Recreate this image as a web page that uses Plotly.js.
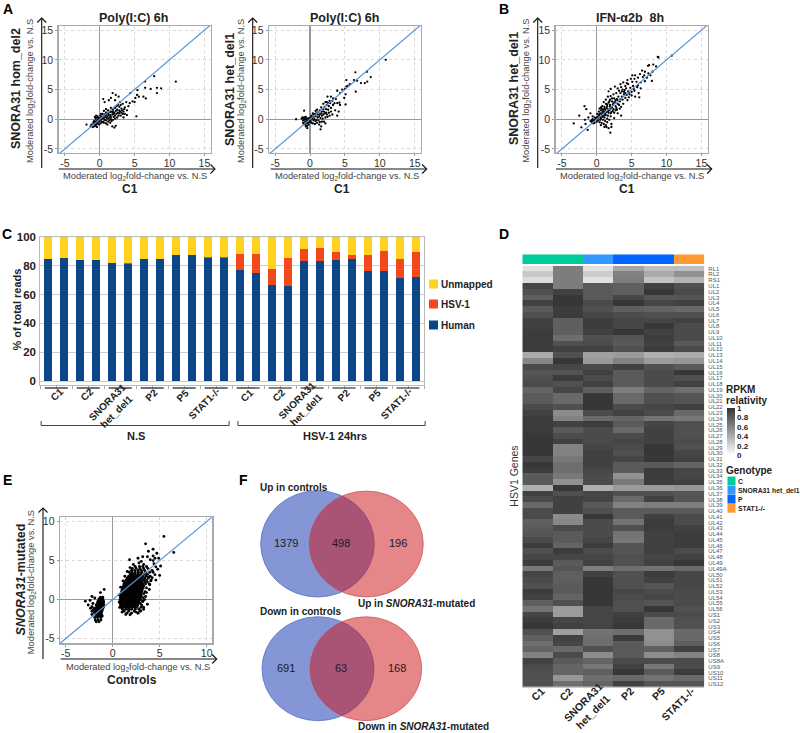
<!DOCTYPE html>
<html><head><meta charset="utf-8">
<script src="https://cdn.plot.ly/plotly-3.0.1.min.js"></script>
<style>html,body{margin:0;padding:0;background:#fff}#c{width:800px;height:733px}</style>
</head><body><div id="c"></div>
<script>
// ---------- DATA ----------
const pointsPolyHomDel2 = [[10.9,6.35],[7.8,7.25],[6.5,6.35],[6.5,5.3],[7.3,5.1],[8.2,5.3],[8.8,5.2],[8.2,4.4],[4.4,4.4],[5.35,4.1],[5.4,4.9],[6.25,3.8],[6.6,3.5],[5.25,0.5],[1.85,4.4],[2.3,4.1],[2.7,3.8],[0.5,3.4],[0.7,2.9],[1.3,3.2],[1.6,3.6],[2.2,3.2],[2.9,2.9],[3.3,2.6],[4.3,2.7],[4.7,3.0],[5.1,3.6],[5.6,3.8],[5.0,2.9],[3.8,2.9],[4.1,2.2],[3.6,2.0],[3.1,1.8],[2.6,2.4],[2.4,2.2],[2.8,2.1],[3.0,2.4],[2.2,1.9],[2.5,1.6],[2.8,1.5],[3.4,1.3],[3.9,1.5],[3.0,0.6],[3.4,0.3],[3.9,0.7],[2.8,1.0],[2.4,0.9],[2.1,1.1],[1.9,1.6],[1.6,1.9],[1.2,1.5],[1.5,1.2],[1.1,1.1],[0.9,1.7],[0.6,1.4],[1.8,-1.2],[2.1,-1.4],[2.3,-1.1],[1.5,-0.6],[1.2,-0.4],[0.9,-0.2],[-1.9,-0.9],[-1.3,-1.2],[-1.2,-0.9],[-1,-1.3],[-0.9,-0.8],[-0.8,-1.2],[-0.7,-0.6],[-0.6,-1.1],[-0.5,-0.9],[-0.5,-0.3],[-0.4,-1.3],[-0.3,-0.7],[-0.3,-0.1],[-0.8,-0.3],[-0.9,-0.5],[-0.6,0.1],[-0.7,0.4],[-0.5,0.6],[-0.4,0.3],[-0.2,-0.4],[-0.1,-0.9],[-0.2,0.2],[-0.6,-0.5],[-0.4,-0.6],[-0.7,-0.9],[-0.3,0.5],[-0.1,0.1],[0,-0.3],[0.1,0.2],[0.2,-0.1],[0.3,0.4],[0.1,0.6],[0.4,0.1],[0.5,0.5],[0.6,0.2],[0.7,-0.1],[0.5,-0.4],[0.8,0.4],[0.9,0.7],[1,0.2],[1.1,0.5],[1.2,0.1],[1.3,0.7],[1.4,0.3],[0.7,0.8],[0.4,0.9],[0.2,0.9],[0.9,1.1],[1.2,0.9],[1.5,0.7],[1.6,0.4],[1.8,0.8],[2,0.4],[2,0.9],[2.2,0.6],[1.7,1.3],[1.9,1.2],[2.3,1.4],[2.6,1.1],[0.3,-0.5],[0.1,-0.7],[0.6,-0.6],[0.9,-0.7],[1.1,-0.9],[1.4,-0.2],[1.7,-0.3],[1.6,0],[1.9,-0.1],[2.2,0.1],[2.5,0.3],[2.7,0.6],[3.1,1.1],[3.3,0.9],[3.6,0.9],[3.2,1.5],[3.5,1.7],[2.9,1.3]];
const pointsPolyHetDel1 = [[10.85,10],[8.15,8],[6.5,7.9],[8.7,7.1],[5.2,6.6],[6.3,6.6],[6.75,6.5],[8.2,6.35],[7.85,6.1],[7.3,6.1],[6.55,4.65],[5.7,5.9],[5.4,5.6],[5,5.1],[5.2,5.5],[4.6,5],[3.9,4.8],[4.3,4.4],[5.1,4.2],[4.9,3.6],[5.1,2.5],[4.3,2.4],[4.1,1.3],[3.6,1.5],[3.2,0.8],[3.9,0.6],[2.5,3.8],[3,3.8],[3.3,3.5],[2.4,2.9],[2.8,3.1],[3.7,3.4],[3.5,2.7],[3.9,2.7],[4.2,2.8],[3.3,2.4],[2.9,2.7],[2.7,2.2],[2.4,2.4],[2.1,2.1],[2.3,1.7],[2.6,1.6],[3,1.9],[3,1.3],[2.7,1.1],[2.3,1.1],[1.9,1.7],[1.6,2],[1.4,1.5],[1.7,1.3],[1.2,1.2],[1,1.6],[0.8,1.4],[1.4,0.8],[1.9,0.8],[1.1,0.8],[0.7,0.9],[0.4,1],[0.2,0.6],[0.5,0.4],[0.8,0.5],[1.1,0.3],[1.5,0.2],[1.8,0.1],[2.2,0.3],[2.5,0.4],[0.3,0.1],[0.6,0],[0.9,-0.1],[1.2,-0.2],[1.4,-0.5],[1.7,-0.4],[2,-0.4],[0.8,-0.3],[0.5,-0.2],[1,-0.6],[1.3,-0.9],[1.6,-1.2],[1.5,-1.7],[2.2,-0.7],[0,0],[0.1,0.3],[0.1,-0.3],[-0.1,-0.1],[-0.2,0.2],[-0.3,-0.2],[-0.4,0.1],[-0.5,-0.3],[-0.6,0],[-0.7,-0.5],[-0.8,-0.1],[-0.9,0.2],[-1,-0.2],[-1.2,0.1],[-1.1,0.3],[-0.8,0.3],[-0.6,0.4],[-2,0],[-0.85,1.45],[-0.7,-0.9],[-0.5,-0.7],[-0.4,-1.1],[-0.3,-0.6],[-1,-0.6],[-0.9,-0.8],[-0.6,-1.2],[-0.4,-1.5],[-0.2,-0.9],[-0.1,-0.5],[0.2,-0.6],[0.4,-0.7],[0.7,-0.8],[1.9,2.6],[2.2,2.9],[1.6,1],[2,1.3],[2.4,0.8],[2.8,0.6],[1.3,0.5],[0.9,1],[0.5,0.8],[0.3,0.4],[1.7,0.6],[2.1,1],[2.6,2.7],[3.2,3.1]];
const pointsIfnHetDel1 = [[10.75,10.7],[8.75,10.5],[8.85,10.4],[7.35,9],[7.5,9.1],[8.1,9.2],[8.5,8.9],[8,8],[7.9,6.45],[6.5,8.2],[6.9,8],[5.1,7.4],[5.5,7.4],[6.2,7.6],[6.8,7.4],[7.4,7.7],[7.7,7.4],[7.2,7],[6.6,7.1],[5.9,7],[5.4,6.8],[4.9,6.8],[4.4,6.6],[3.8,6.2],[3.4,5.9],[2.6,5.5],[2,5.1],[1.7,4.7],[3,5.2],[3.5,5.4],[4.1,5.6],[4.5,5.9],[5.1,6.3],[5.7,6.3],[6.3,6.2],[6.9,6.4],[5.2,5.6],[5.8,5.4],[6.3,5.2],[6,4.4],[5.5,3.8],[6.1,3.7],[5,4.6],[4.5,4.7],[4,4.9],[3.7,5],[3.4,4.4],[3.9,4.2],[4.3,4.1],[4.7,4.2],[4.4,3.2],[3.7,3.3],[3.1,3.8],[2.8,4.4],[2.4,4.2],[2,3.9],[1.6,3.8],[1.3,3.3],[1.9,3.3],[2.5,3.5],[3,3.2],[3.4,3.4],[3,2.6],[2.6,2.9],[2.2,3],[1.7,2.8],[1.3,2.6],[1,2.9],[0.8,2.2],[1.1,2.1],[1.5,2.2],[1.9,2.4],[2.3,2.4],[2.7,2.2],[3.2,2.4],[3.5,2.1],[2.9,1.6],[2.4,1.7],[2,1.8],[1.6,1.7],[1.2,1.6],[0.9,1.6],[0.6,1.5],[0.4,1.8],[0.5,1],[0.8,1.2],[1.1,1.1],[1.4,1.2],[1.7,1.1],[2.1,1.2],[2.5,1.1],[3,1],[3.5,0.6],[2.5,0.2],[2,0.5],[1.6,0.6],[1.3,0.7],[1,0.6],[0.7,0.7],[0.3,0.6],[0.1,0.9],[0.2,0.2],[0.5,0.3],[0.8,0.4],[1.1,0.3],[1.5,0.1],[1.8,-0.1],[0.2,-0.2],[0.5,-0.1],[0.9,-0.1],[1.2,-0.3],[1.5,-0.5],[0.4,-0.5],[0.7,-0.6],[1,-0.8],[1.3,-1],[1.1,-1.3],[1.4,-1.3],[0.6,-1],[1.95,-2.25],[1.7,-1.5],[2.1,-0.8],[2.1,-1.3],[-3.3,-0.7],[-2.5,0.6],[-1.75,2.2],[-1.5,1.7],[-2.2,-1.35],[-1.3,-1.8],[-1.6,-0.8],[-1.7,-0.1],[-1.2,0.3],[-0.9,1],[-0.9,-0.3],[-0.7,-0.5],[-0.6,0],[-0.5,-0.4],[-0.4,-0.2],[-0.3,-0.6],[-0.2,-0.1],[-0.6,0.5],[-0.3,0.3],[-0.1,0.2],[0,-0.4],[0,0.1],[0.1,0.4],[-0.7,-0.2],[-0.5,-0.7],[0.3,1.3],[0.6,2],[1.8,1.5],[2.2,2],[2.8,1.9],[3.3,1.8],[3.8,2.6],[4.1,3.6],[4.6,3.7],[5,4],[5.4,4.8],[5.9,5.7],[5.3,5.1],[4.8,5.3],[4.2,5.2],[3.9,4.6],[3.6,3.8],[3.3,3],[2.9,3.4],[2.4,2.7],[1.9,2.1],[1.4,1.9],[1,1.3],[0.8,0.9],[0.4,0.8],[0.6,0.1],[1.2,0.9],[1.6,1.4],[2,1],[2.3,1.4],[2.7,1.5],[1.5,2.5],[1.1,1.8],[0.7,1.8],[4.1,4.4],[4.6,4.5],[3.6,4.7],[3.2,4.8],[2.2,3.5],[1.8,3],[2.7,3.2],[4.3,6.1]];
const eOutliers = [[5.45,8.1],[3.5,7.15],[4.3,6.45],[6.5,6.05],[3.8,6.2],[4.7,5.95],[4.3,5.6],[4.5,5.3],[4.9,5.3],[1.8,5.1],[2.7,5.3],[3.2,5.5],[3.7,5.5],[4,5.1],[4.3,5],[5.1,4.3],[4.6,4.2],[4.8,3.9],[5,3.1],[4.2,2.8],[4.6,2.5],[3.8,2.9],[4.3,3.5],[4.5,3.2],[3.9,1.3],[3.5,0.4],[3.7,-0.6],[3.3,-1],[2.5,-1.6],[1.4,-1.9],[3.2,-0.2],[3.6,0.9],[3.95,1.9],[4.05,2.4],[4.4,4.6],[3.3,4.5],[2.8,4.7],[3.05,4.9],[2.2,4.5],[1.85,4.1],[1.55,3.6],[1.3,3.0],[1.1,2.4],[0.85,1.6],[0.7,0.6],[0.7,-0.3],[0.75,-1.0],[1.0,-1.6],[1.85,-1.95],[3.0,-1.45]];
const eBlobLevels = [-1.75,-1.5,-1.25,-1,-0.75,-0.5,-0.25,0,0.25,0.5,0.75,1,1.25,1.5,1.75,2,2.25,2.5,2.75,3,3.25,3.5,3.75,4,4.25];
const eBlobX = [
[1.5,2.0,2.7],[1.2,1.7,2.3,2.9],[1.05,1.4,1.7,2.0,2.4,2.8,3.3],[0.9,1.15,1.4,1.6,1.8,2.1,2.35,2.6,3.0],
[0.85,1.0,1.2,1.4,1.6,1.8,2.0,2.2,2.4,2.65,3.1],[0.8,0.95,1.1,1.3,1.5,1.7,1.9,2.1,2.3,2.5,2.7,2.95],[0.8,0.95,1.15,1.35,1.55,1.75,1.95,2.15,2.35,2.55,2.8,3.2],
[0.8,1.0,1.2,1.4,1.6,1.8,2.0,2.2,2.4,2.6,2.8,3.0,3.4],[0.82,1.0,1.15,1.35,1.55,1.75,1.95,2.15,2.35,2.55,2.75,2.95,3.25],[0.85,1.05,1.25,1.45,1.65,1.85,2.05,2.25,2.45,2.65,2.85,3.05],
[0.88,1.05,1.2,1.4,1.6,1.8,2.0,2.2,2.4,2.6,2.8,3.0,3.3],[0.95,1.1,1.3,1.5,1.7,1.9,2.1,2.3,2.5,2.7,2.9,3.1,3.45],[1.0,1.15,1.35,1.55,1.75,1.95,2.15,2.35,2.55,2.75,2.95,3.15],
[1.05,1.25,1.45,1.65,1.85,2.05,2.25,2.45,2.65,2.85,3.05,3.25,3.6],[1.15,1.3,1.5,1.7,1.9,2.1,2.3,2.5,2.7,2.9,3.1,3.3],[1.2,1.4,1.6,1.8,2.0,2.2,2.4,2.6,2.8,3.0,3.2,3.5,3.9],
[1.3,1.5,1.7,1.9,2.1,2.3,2.5,2.7,2.9,3.1,3.4,3.7],[1.4,1.65,1.85,2.05,2.25,2.45,2.65,2.85,3.05,3.3,3.6,4.1],[1.55,1.8,2.0,2.2,2.4,2.6,2.85,3.1,3.4,3.8],
[1.7,1.95,2.2,2.45,2.65,2.9,3.2,3.55,4.0],[1.9,2.15,2.4,2.7,3.0,3.35,3.7],[1.75,2.05,2.4,2.75,3.1,3.5,3.95],[2.0,2.35,2.7,3.05,3.4,4.2],[2.1,2.5,2.9,3.3,3.75],[2.4,2.85,3.2,3.6]];
const eDownLevels = [0.3,0.1,-0.1,-0.3,-0.5,-0.7,-0.9,-1.1,-1.3,-1.5,-1.7,-1.9,-2.1,-2.3,-2.6,-2.85];
const eDownX = [[-1.3,-1.05],[-1.45,-1.25,-1.05],[-2.4,-1.5,-1.3,-1.15,-1],[-1.6,-1.4,-1.25,-1.1,-0.95],[-2.1,-1.6,-1.45,-1.3,-1.15,-1],[-2.6,-1.75,-1.6,-1.45,-1.3,-1.15,-0.95],[-2.2,-1.7,-1.55,-1.4,-1.25,-1.1,-0.95],[-2.35,-1.95,-1.7,-1.55,-1.4,-1.25,-1.05],[-2.05,-1.75,-1.6,-1.45,-1.3,-1.1],[-2.2,-1.85,-1.65,-1.5,-1.35,-1.15],[-1.95,-1.7,-1.55,-1.4,-1.2],[-2.2,-1.8,-1.6,-1.45,-1.2],[-1.7,-1.5,-1.35,-1.1],[-1.9,-1.6,-1.25],[-1.85,-1.55,-1.25],[-1.75,-1.45]];
const eExtraDown = [[-0.9,1.3],[-1.3,0.9],[-2.9,-0.2],[-2.2,0.4],[-1.9,0.2]];
const identityLine = [-7,17];
const axisTicks = [-5,0,5,10,15];
const axisTicksE = [-5,0,5,10];

const sampleLabels = ['C1','C2','SNORA31<br>het_del1','P2','P5','STAT1-/-'];
const humanReads = [84.3,85,83.9,83.9,81.6,81.3,84.3,84.3,87.3,87.1,85.5,85.5,76.7,74.7,66.8,65.9,83.4,83.4,83.9,84.6,76,76,71.7,71.9];
const hsvReads   = [0.2,0.2,0.2,0.2,0.2,0.2,0.2,0.2,0.2,0.2,0.2,0.2,11.5,13.3,10.6,19.6,8.3,8.8,5.3,3,11.6,14.1,13.1,17.5];
const unmappedReads = [15.5,14.8,15.9,15.9,18.2,18.5,15.5,15.5,12.5,12.7,14.3,14.3,11.8,12,22.6,14.5,8.3,7.8,10.8,12.4,12.4,9.9,15.2,10.6];

const geneNames = ['RL1','RL2','RS1','UL1','UL2','UL3','UL4','UL5','UL6','UL7','UL8','UL9','UL10','UL11','UL12','UL13','UL14','UL15','UL16','UL17','UL18','UL19','UL20','UL21','UL22','UL23','UL24','UL25','UL26','UL27','UL28','UL29','UL30','UL31','UL32','UL33','UL34','UL35','UL36','UL37','UL38','UL39','UL40','UL41','UL42','UL43','UL44','UL45','UL46','UL47','UL48','UL49','UL49A','UL50','UL51','UL52','UL53','UL54','UL55','UL56','US1','US2','US3','US4','US5','US6','US7','US8','US8A','US9','US10','US11','US12'];
const geneGrey = [
[220,120,220,160,185,185],[195,120,200,125,165,140],[215,120,220,120,190,175],[65,120,85,90,60,75],[75,60,85,90,50,70],[90,50,85,65,80,80],[60,50,70,50,65,60],[85,55,75,90,95,100],[75,55,65,70,75,75],[60,90,55,65,65,60],[60,90,55,65,50,70],[55,90,60,50,60,70],[55,105,75,80,55,70],[55,75,70,85,60,85],[55,60,60,75,55,70],[165,75,155,150,170,165],[130,50,150,125,150,145],[70,65,70,60,75,85],[80,80,60,85,70,50],[75,55,70,85,70,75],[70,75,60,85,70,60],[95,65,90,120,95,105],[85,100,50,100,75,80],[85,100,50,100,75,80],[70,75,50,70,65,60],[60,135,70,60,70,100],[55,125,100,95,110,115],[55,60,55,85,65,75],[55,85,70,100,60,75],[50,70,70,70,60,75],[50,60,70,65,60,70],[50,125,65,70,50,75],[50,125,60,75,50,65],[65,115,60,65,50,60],[50,105,60,85,85,95],[55,105,65,85,55,65],[85,115,70,140,55,65],[85,140,70,115,55,60],[170,50,170,150,150,145],[60,75,65,75,75,80],[70,60,65,100,60,80],[100,60,85,125,120,120],[70,60,75,85,85,85],[70,135,50,85,60,70],[90,130,70,110,55,70],[85,70,70,75,55,60],[80,85,70,110,60,55],[70,85,65,115,60,55],[55,95,55,80,60,55],[75,55,70,80,60,70],[65,65,65,75,65,60],[55,85,60,75,60,50],[115,80,120,105,110,100],[65,90,60,75,55,65],[70,90,50,75,60,65],[75,85,50,75,80,65],[55,85,50,65,70,70],[60,95,50,70,65,70],[90,75,50,75,80,70],[110,150,65,75,50,75],[65,150,65,60,70,70],[55,65,65,55,100,75],[50,60,65,50,100,75],[75,155,110,105,140,100],[90,60,105,55,140,100],[105,65,105,85,135,90],[95,100,75,85,90,60],[125,70,135,85,135,125],[60,85,95,70,70,70],[70,95,115,60,115,70],[75,95,90,50,85,55],[75,145,105,100,110,100],[75,105,95,60,80,80]];
const sampleGenotype = [0,0,1,2,2,3];
const genotypeNames = ['C','SNORA31 het_del1','P','STAT1-/-'];
const genotypeColors = ['#00CC99','#3399FF','#0066FF','#FF9933'];
const relativityTicks = [0,0.2,0.4,0.6,0.8,1];
const vennUp = ['1379','498','196'];
const vennDown = ['691','63','168'];

// ---------- HELPERS ----------
const W=800,H=733, FONT='Liberation Sans';
const px=x=>x/W, py=y=>(H-y)/H;
const ann=[], shapes=[], traces=[];
const T=(x,y,text,o={})=>{const e=o.extra||{};ann.push(Object.assign({xref:'paper',yref:'paper',x:px(e.xanchor==='left'?x-2:x),y:py(y),text,showarrow:false,xanchor:'center',yanchor:'middle',font:{family:FONT,size:o.size||10,color:o.color||'#222'}},e));};
const seg=(path,w)=>shapes.push({type:'path',xref:'paper',yref:'paper',path,line:{color:'#111',width:w||1.1}});
const P=(x,y)=>px(x)+','+py(y);
const arrowUp=(x,b,t)=>{seg('M'+P(x,b)+'L'+P(x,t));seg('M'+P(x-4.5,t+4.5)+'L'+P(x,t)+'L'+P(x+4.5,t+4.5));};
const arrowRight=(l,r,y)=>{seg('M'+P(l,y)+'L'+P(r,y));seg('M'+P(r-4.5,y-4.5)+'L'+P(r,y)+'L'+P(r-4.5,y+4.5));};
const rows=(lv,xs)=>lv.flatMap((y,i)=>xs[i].map(x=>[x,y]));
const layout={width:W,height:H,margin:{l:0,r:0,t:0,b:0},paper_bgcolor:'#fff',plot_bgcolor:'#fff',showlegend:false,barmode:'stack',font:{family:FONT},annotations:ann,shapes};

function dom(l,r,t,b){return {x:[px(l),px(r)],y:[py(b),py(t)]};}
function scatterPanel(n,pts,box,xr,yr,xt,yt,size){
  const d=dom(...box), xa='xaxis'+n, ya='yaxis'+n;
  const axis=(domain,range,tv,anchor,stand)=>({domain,range,anchor,tickvals:tv,ticktext:tv.map(String),ticks:'outside',ticklen:2,tickcolor:'#999',tickfont:{family:FONT,size:10.5,color:'#333'},showline:true,mirror:true,linecolor:'#aaa',linewidth:1.4,showgrid:true,gridcolor:'#d8d8d8',griddash:'dot',gridwidth:1,zeroline:true,zerolinecolor:'#999',zerolinewidth:1.3,ticklabelstandoff:stand});
  layout[xa]=axis(d.x,xr,xt,'y'+n,-2); layout[ya]=axis(d.y,yr,yt,'x'+n,0);
  traces.push({type:'scatter',mode:'markers',x:pts.map(p=>p[0]),y:pts.map(p=>p[1]),xaxis:'x'+n,yaxis:'y'+n,marker:{color:'#000',size:size||2.3},hoverinfo:'skip'});
  traces.push({type:'scatter',mode:'lines',x:identityLine,y:identityLine,xaxis:'x'+n,yaxis:'y'+n,line:{color:'#5b93d8',width:1.2},hoverinfo:'skip'});
}
const MOD='Moderated log<sub>2</sub>fold-change vs. N.S';
function labels(o){
  if(o.title) T(o.title[0],18,'<b>'+o.title[1]+'</b>',{size:12.5});
  arrowUp(o.ya,o.yb,o.yt); arrowRight(o.xl,o.xr,o.xay);
  T(o.xc,o.xly,MOD,{size:9.3,color:'#444'});
  T(o.cc,o.cy,'<b>'+o.cname+'</b>',{size:12});
  T(o.ymx,o.ymy,MOD,{size:9.3,color:'#444',extra:{textangle:-90}});
  T(o.ynx,o.yny,'<b>'+o.yname+'</b>',{size:12.5,extra:{textangle:-90}});
}

// ---------- A / B / E ----------
const xr=[-5.88,15.9], yr=[-5.68,15.7];
scatterPanel(1,pointsPolyHomDel2,[58.7,210.7,26,153],xr,yr,axisTicks,axisTicks);
scatterPanel(2,pointsPolyHetDel1,[269,421,26,153],xr,yr,axisTicks,axisTicks);
scatterPanel(3,pointsIfnHetDel1,[555.7,707.7,26,153],xr,yr,axisTicks,axisTicks);
scatterPanel(5,[...rows(eBlobLevels,eBlobX),...rows(eDownLevels,eDownX),...eOutliers,...eExtraDown],[60,212.3,517.3,643.3],[-5.6,10.6],[-5.6,10.55],axisTicksE,axisTicksE,2.9);
labels({title:[133,'Poly(I:C) 6h'],ya:41.7,yb:168,yt:18,xl:58.7,xr:215,xay:169,xc:134.7,xly:176.5,cc:129.7,cy:189,cname:'C1',ymx:30,ymy:91,yname:'SNORA31 hom_del2',ynx:16,yny:89});
labels({title:[344.3,'Poly(I:C) 6h'],ya:252.7,yb:168,yt:18,xl:270.7,xr:426.7,xay:169,xc:346.7,xly:176.5,cc:341.7,cy:189,cname:'C1',ymx:241,ymy:91,yname:'SNORA31 het_del1',ynx:230,yny:89});
labels({title:[630,'IFN-α2b  8h'],ya:537.7,yb:168,yt:18,xl:556,xr:711.7,xay:169,xc:632.3,xly:176.5,cc:626.7,cy:189,cname:'C1',ymx:525.7,ymy:91,yname:'SNORA31 het_del1',ynx:514,yny:89});
labels({ya:43,yb:659,yt:508,xl:60.7,xr:216.7,xay:659,xc:138.3,xly:667.5,cc:132,cy:680,cname:'Controls',ymx:31.7,ymy:582.5,yname:'<i>SNORA31</i>-mutated',ynx:20.7,yny:579.7});

// ---------- C ----------
const barIdx=humanReads.map((_,i)=>i);
const dc=dom(40.3,424,236.7,385);
[[humanReads,'Human','#0B4686'],[hsvReads,'HSV-1','#F2481B'],[unmappedReads,'Unmapped','#FFD21F']].forEach(([v,name,c])=>traces.push({type:'bar',x:barIdx,y:v,name,xaxis:'x4',yaxis:'y4',width:0.5,marker:{color:c,line:{width:0}},hoverinfo:'skip'}));
const groupTicks=[0.5,2.5,4.5,6.5,8.5,10.5,12.5,14.5,16.5,18.5,20.5,22.5];
layout.xaxis4={domain:dc.x,range:[-0.5,23.5],anchor:'y4',showticklabels:false,tickvals:groupTicks,ticks:'',showline:true,linecolor:'#bbb',linewidth:1,mirror:true,showgrid:false,zeroline:false,minor:{ticks:'outside',tick0:-0.5,dtick:1,ticklen:3,tickcolor:'#aaa',showgrid:false}};
layout.yaxis4={domain:dc.y,range:[-2.56,100],anchor:'x4',tickvals:[0,20,40,60,80,100],ticks:'',showgrid:true,gridcolor:'#ccc',gridwidth:1,zeroline:false,showline:true,linecolor:'#bbb',mirror:true,tickfont:{family:FONT,size:11.5,weight:'bold',color:'#222'},ticklabelstandoff:1};
T(16.5,310,'<b>% of total reads</b>',{size:11,extra:{textangle:-90}});
const cLabelPos=[[56.7,394],[86.7,394],[111.7,406.7],[151,395],[182.7,395],[204,403],[246.7,395],[278.3,395],[301.7,405],[343.3,395],[374.3,395],[396.7,404]];
cLabelPos.forEach(([x,y],i)=>T(x,y,'<b>'+sampleLabels[i%6]+'</b>',{size:10,extra:{textangle:-45}}));
groupTicks.forEach(g=>shapes.push({type:'line',xref:'x4',yref:'paper',x0:g-0.72,x1:g+0.72,y0:py(388),y1:py(388),line:{color:'#444',width:1.3}}));
[[-0.45,11.3,'N.S',136],[11.85,23.55,'HSV-1 24hrs',335]].forEach(([a,b,name,c])=>{
  shapes.push({type:'path',xref:'paper',yref:'paper',path:`M${P(40.3+(a+0.5)*16,421)}L${P(40.3+(a+0.5)*16,425.5)}L${P(40.3+(b+0.5)*16,425.5)}L${P(40.3+(b+0.5)*16,421)}`,line:{color:'#444',width:1}});
  T(c,435.5,'<b>'+name+'</b>',{size:11});
});
[['Unmapped','#FFD21F',284],['HSV-1','#F2481B',304],['Human','#0B4686',325]].forEach(([n,c,y])=>{
  shapes.push({type:'rect',xref:'paper',yref:'paper',x0:px(429),x1:px(438),y0:py(y-4.5),y1:py(y+4.5),fillcolor:c,line:{width:0}});
  T(441,y,'<b>'+n+'</b>',{size:10,extra:{xanchor:'left'}});
});

// ---------- D ----------
const dh=dom(522.3,704.3,265.7,687);
const heatZ=geneGrey.map(r=>r.map(g=>(255-g-5)/(255-51)));
traces.push({type:'heatmap',z:heatZ,x:[0,1,2,3,4,5],y:geneNames.map((_,i)=>i),xaxis:'x6',yaxis:'y6',zmin:0,zmax:1,colorscale:[[0,'#ffffff'],[1,'#333333']],hoverinfo:'skip',xgap:0,ygap:0,
  colorbar:{x:px(727),xanchor:'left',y:py(431.7),yanchor:'middle',len:47,lenmode:'pixels',thickness:8,thicknessmode:'pixels',tickvals:relativityTicks,ticktext:relativityTicks.map(String),ticks:'',outlinewidth:0,xpad:0,ypad:0,tickfont:{family:FONT,size:8,weight:'bold',color:'#222'}}});
layout.xaxis6={domain:dh.x,range:[-0.5,5.5],anchor:'y6',showticklabels:false,ticks:'',showgrid:false,zeroline:false,showline:true,linecolor:'#ccc'};
layout.yaxis6={domain:dh.y,range:[72.5,-0.5],anchor:'x6',side:'right',tickvals:geneNames.map((_,i)=>i),ticktext:geneNames,ticks:'',ticklabelstandoff:3,tickfont:{family:FONT,size:6,color:'#555'},showgrid:false,zeroline:false};
const da=dom(522.3,704.3,254.3,264);
traces.push({type:'heatmap',z:[sampleGenotype],x:[0,1,2,3,4,5],y:[0],xaxis:'x7',yaxis:'y7',zmin:0,zmax:3,showscale:false,hoverinfo:'skip',
  colorscale:[[0,genotypeColors[0]],[0.333,genotypeColors[0]],[0.3331,genotypeColors[1]],[0.666,genotypeColors[1]],[0.6661,genotypeColors[2]],[0.999,genotypeColors[2]],[0.9991,genotypeColors[3]],[1,genotypeColors[3]]]});
layout.xaxis7={domain:da.x,range:[-0.5,5.5],anchor:'y7',visible:false};
layout.yaxis7={domain:da.y,range:[-0.5,0.5],anchor:'x7',visible:false};
T(514,476.7,'HSV1 Genes',{size:10.5,color:'#333',extra:{textangle:-90}});
const dLabelPos=[[537.7,694],[566,694],[588,706.7],[627,694],[658,694],[677.7,704]];
dLabelPos.forEach(([x,y],i)=>T(x,y,'<b>'+sampleLabels[i]+'</b>',{size:10.5,extra:{textangle:-45}}));
T(726,389,'<b>RPKM</b>',{size:10,extra:{xanchor:'left'}});
T(726,400.5,'<b>relativity</b>',{size:10,extra:{xanchor:'left'}});
T(726,470,'<b>Genotype</b>',{size:10,extra:{xanchor:'left'}});
genotypeNames.forEach((n,i)=>{const y=481+i*9.1;
  shapes.push({type:'rect',xref:'paper',yref:'paper',x0:px(727.5),x1:px(735.5),y0:py(y-4.4),y1:py(y+4.4),fillcolor:genotypeColors[i],line:{width:0}});
  T(738,y,'<b>'+n+'</b>',{size:6.8,extra:{xanchor:'left'}});
});

// ---------- F ----------
function circle(l,r,t,b,c,lc){shapes.push({type:'circle',xref:'paper',yref:'paper',x0:px(l),x1:px(r),y0:py(b),y1:py(t),fillcolor:c,line:{color:lc,width:1}});}
const BL='rgba(50,80,185,0.6)',RD='rgba(205,23,29,0.52)';
circle(260.7,374.3,490.7,597,BL,'rgba(90,115,205,0.8)'); circle(309.3,423.3,491,597,RD,'rgba(205,60,70,0.6)');
circle(262,374,616.7,720.7,BL,'rgba(90,115,205,0.8)'); circle(310,421.7,616.7,720.7,RD,'rgba(205,60,70,0.6)');
[286,341,398].forEach((x,i)=>T(x,543.3,vennUp[i],{size:11,color:'#1a1a2a'}));
[286,341,397].forEach((x,i)=>T(x,668,vennDown[i],{size:11,color:'#1a1a2a'}));
const L={xanchor:'left'};
T(260,487,'<b>Up in controls</b>',{size:10,extra:L});
T(358,603,'<b>Up in <i>SNORA31</i>-mutated</b>',{size:10,extra:L});
T(260,611.7,'<b>Down in controls</b>',{size:10,extra:L});
T(358,726.5,'<b>Down in <i>SNORA31</i>-mutated</b>',{size:10,extra:L});

// panel letters
[['A',8,9],['B',504,9],['C',7,234],['D',504,234],['E',7,480],['F',243,480]].forEach(([t,x,y])=>T(x,y,'<b>'+t+'</b>',{size:14,color:'#000'}));

Plotly.newPlot('c',traces,layout,{displayModeBar:false,staticPlot:true});
</script></body></html>
